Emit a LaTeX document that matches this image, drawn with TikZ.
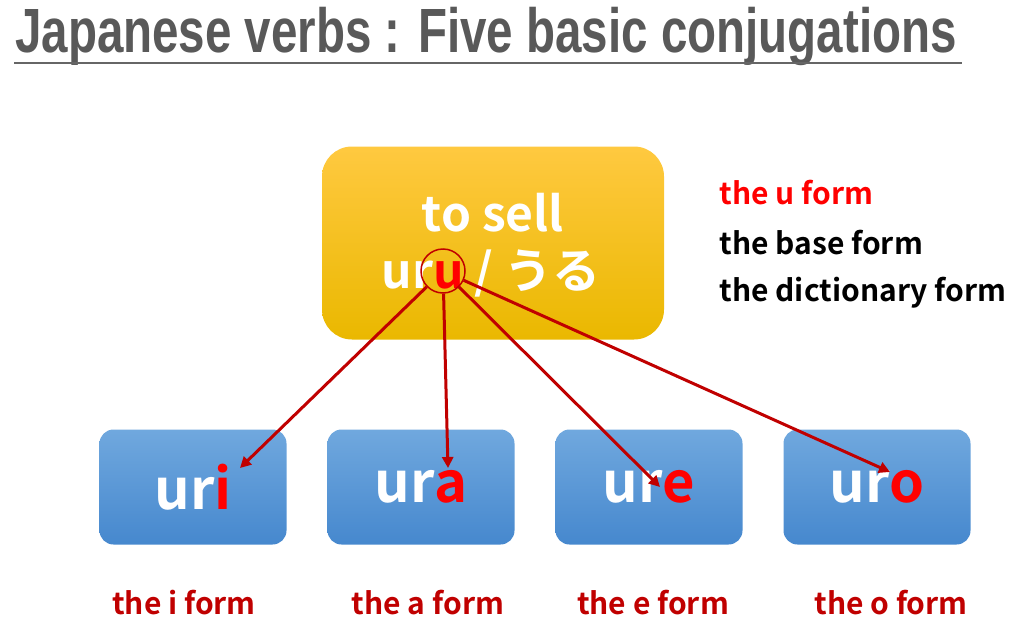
\documentclass[tikz,border=0pt]{standalone}
\usepackage{fontspec}
\setmainfont{Noto Sans CJK JP}[BoldFont={* Bold}]
\newfontfamily\titlefont{Liberation Sans}
\usetikzlibrary{arrows.meta}
\definecolor{dred}{HTML}{C00000}
\definecolor{btop}{RGB}{112,168,222}
\definecolor{bbot}{RGB}{70,136,206}
\definecolor{ytop}{RGB}{255,201,64}
\definecolor{ybot}{RGB}{234,184,0}
\begin{document}
\begin{tikzpicture}[x=1pt,y=-1pt,
  bluebox/.style={draw=none,rounded corners=14pt,minimum width=187pt,minimum height=115pt,top color=btop,bottom color=bbot},
  formlbl/.style={text=dred,font=\bfseries\fontsize{30}{33}\selectfont},
  sidelbl/.style={anchor=west,font=\bfseries\fontsize{30}{33}\selectfont},
  conj/.style={text=white,font=\bfseries\fontsize{56}{60}\selectfont},
  arr/.style={draw=dred,line width=3pt,-{Triangle[length=11pt,width=11pt]}}]
\useasboundingbox (0,0) rectangle (1024,642);
\node[text=black!65,font=\titlefont\bfseries\fontsize{50}{54}\selectfont,xscale=0.95,yscale=1.25,anchor=west,inner sep=0pt] (t) at (15,36) {Japanese verbs : Five basic conjugations};
\draw[black!60,line width=2.5pt] (14,63) -- (962,63);
\node[draw=none,rounded corners=30pt,minimum width=342pt,minimum height=193pt,top color=ytop,bottom color=ybot] (y) at (493,243) {};
\node[text=white,font=\bfseries\fontsize{48}{52}\selectfont] (s) at (493,213) {to sell};
\node[text=white,font=\bfseries\fontsize{48}{52}\selectfont,anchor=base] (w) at (491,288) {ur\textcolor{red}{u} / うる};
\node[draw=dred,line width=1.5pt,circle,minimum size=44pt] (c) at (443,271) {};
\node[sidelbl,text=red] (l1) at (716,193) {the u form};
\node[sidelbl] (l2) at (716,243) {the base form};
\node[sidelbl] (l3) at (716,293) {the dictionary form};
\foreach \n/\x/\v in {1/193/i,2/421/a,3/649/e,4/877/o}{
  \node[bluebox] (b\n) at (\x,487) {};
  \node[conj] (t\n) at (\x,487) {ur\textcolor{red}{\v}};
}
\node[formlbl] (f1) at (184,603) {the i form};
\node[formlbl] (f2) at (428,603) {the a form};
\node[formlbl] (f3) at (653,603) {the e form};
\node[formlbl] (f4) at (891,603) {the o form};
\coordinate (e1) at (240,468);
\coordinate (e2) at (448,468);
\coordinate (e3) at (660,487);
\coordinate (e4) at (890,472);
\foreach \n in {1,2,3,4}{\draw[arr] (c) -- (e\n);}
\end{tikzpicture}
\end{document}
